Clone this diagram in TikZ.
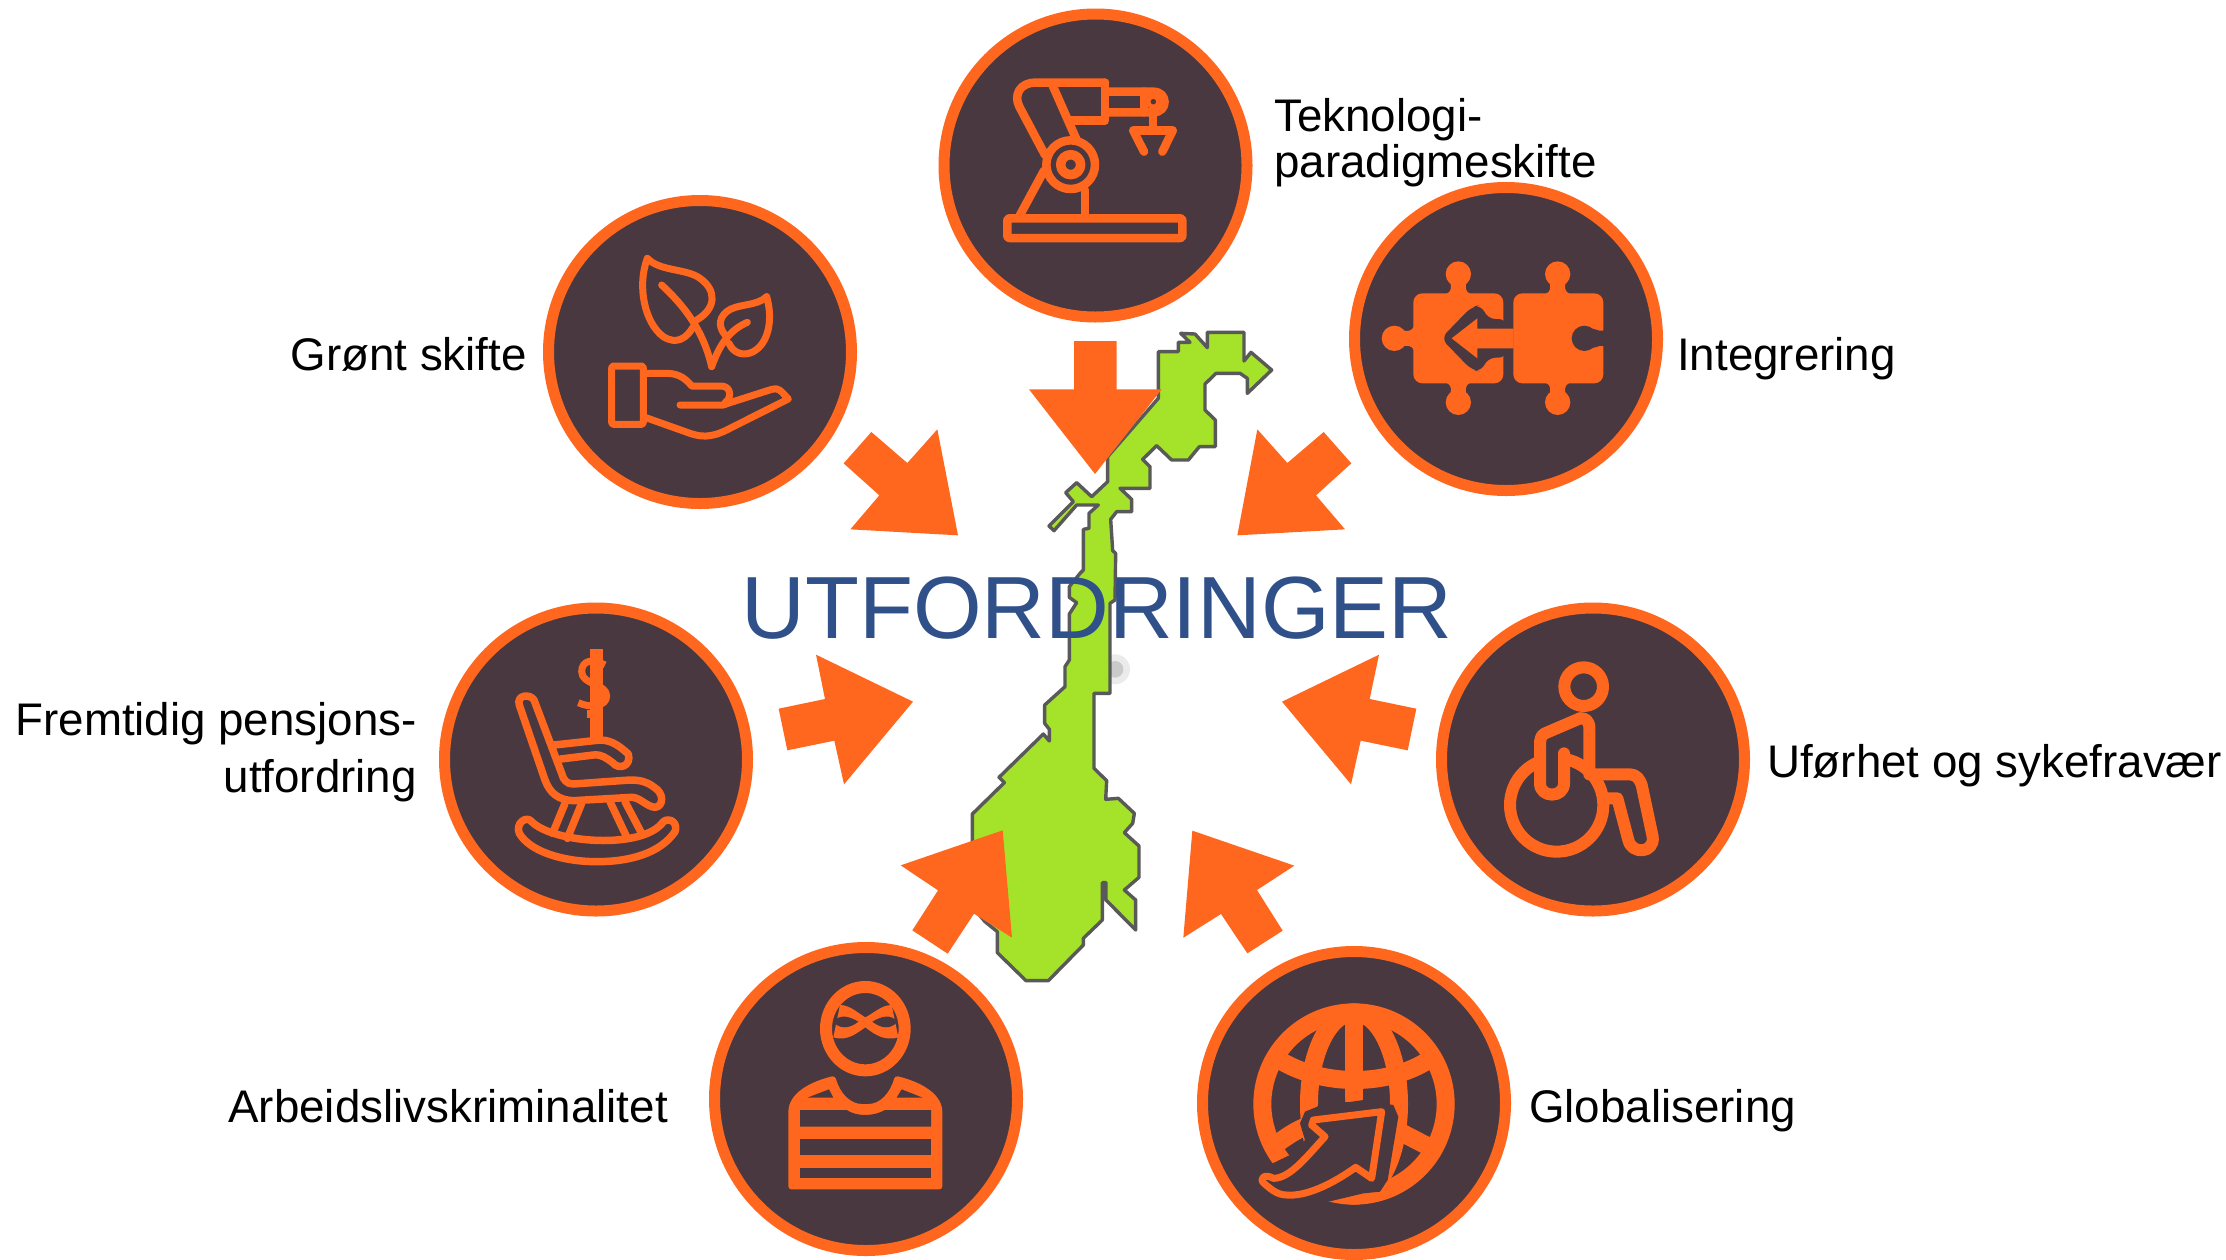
\documentclass[tikz,border=0pt]{standalone}
\usepackage{fontspec}
\setmainfont{Liberation Sans}
\definecolor{org}{HTML}{FF671F}
\definecolor{drk}{HTML}{493840}
\definecolor{grn}{HTML}{A5E32A}
\definecolor{mapedge}{HTML}{595959}
\definecolor{ttl}{HTML}{2F5089}
\tikzset{
  zf/.style 2 args={shift={(#1pt,-#2pt)},x=0.33333pt,y=-0.33333pt},
  badge/.style={circle,draw=org,fill=drk,line width=11pt,minimum size=303pt,inner sep=0pt},
  bigarrow/.style={fill=org,draw=none},
  ln/.style={draw=org,line cap=round,line join=round},
  lbl/.style={inner sep=0pt,font=\fontsize{45.7}{47}\selectfont},
}
\begin{document}
\begin{tikzpicture}[x=1pt,y=-1pt]
\useasboundingbox (0,0) rectangle (2226,1259);
\fill[white] (0,0) rectangle (2226,1259);

% Norway
\begin{scope}[zf={940}{310}]
\fill[black!25,opacity=.3] (525,1078) circle[radius=45];
\fill[black!40,opacity=.4] (525,1078) circle[radius=25];
\draw[fill=grn,draw=mapedge,line width=3.4pt,line join=round]
 (722,70)--(765,72)--(802,113)--(802,67)--(912,67)--(912,153)--(933,127)--(995,180)--(922,250)--(922,205)--(900,190)--(828,190)--(795,222)--(795,300)--(826,330)--(826,410)--(778,410)--(745,450)--(695,450)--(650,407)--(608,448)--(630,470)--(630,535)--(540,535)--(575,568)--(575,605)--(530,605)--(512,628)--(518,722)--(527,730)--(525,870)--(510,880)--(510,1150)--(462,1150)--(462,1375)--(500,1412)--(497,1468)--(535,1465)--(583,1510)--(578,1540)--(553,1568)--(597,1608)--(597,1702)--(553,1740)--(587,1770)--(587,1860)--(498,1770)--(498,1718)--(487,1718)--(487,1830)--(430,1885)--(430,1905)--(325,2012)--(258,2012)--(172,1928)--(172,1865)--(135,1835)--(97,1790)--(97,1512)--(193,1418)--(177,1402)--(310,1272)--(328,1293)--(328,1258)--(314,1240)--(314,1185)--(375,1130)--(375,1070)--(388,1050)--(388,912)--(410,878)--(388,862)--(388,830)--(420,790)--(430,780)--(430,658)--(447,655)--(447,610)--(475,585)--(410,585)--(342,662)--(327,648)--(400,575)--(377,548)--(410,518)--(455,560)--(503,515)--(503,440)--(655,265)--(655,125)--(715,125)--(715,97)--(750,97)--cycle;
\end{scope}

% title
\node[anchor=base,inner sep=0pt,text=ttl,font=\fontsize{88.3}{90}\selectfont] (title) at (1097,638) {UTFORDRINGER};

% arrows
\begin{scope}[zf={940}{310}]
\fill[bigarrow] (402,93)--(530,93)--(530,238)--(665,238)--(465,492)--(267,238)--(402,238)--cycle;
\end{scope}
\begin{scope}[zf={770}{410}]
\fill[bigarrow] (304,66)--(412,159)--(502,58)--(564,376)--(241,358)--(328,256)--(221,160)--cycle;
\fill[bigarrow] (26,896)--(165,867)--(138,734)--(429,875)--(222,1123)--(193,992)--(52,1021)--cycle;
\end{scope}
\begin{scope}[zf={1230}{410}]
\fill[bigarrow] (281,66)--(172,159)--(82,58)--(22,376)--(345,358)--(258,256)--(364,160)--cycle;
\fill[bigarrow] (559,896)--(419,867)--(447,734)--(156,875)--(363,1123)--(392,992)--(533,1021)--cycle;
\end{scope}
\begin{scope}[zf={890}{820}]
\fill[bigarrow] (32,136)--(338,31)--(366,353)--(252,281)--(173,401)--(67,331)--(144,211)--cycle;
\end{scope}
\begin{scope}[zf={940}{660}]
\fill[bigarrow] (757,512)--(1063,617)--(951,690)--(1028,812)--(922,880)--(843,762)--(730,833)--cycle;
\end{scope}

% badges
\node[badge] (robot)  at (1095.5,165.5) {};
\node[badge] (leaf)   at (700,352) {};
\node[badge] (puzzle) at (1506,339) {};
\node[badge] (chair)  at (596,759.5) {};
\node[badge] (wheel)  at (1593,759.5) {};
\node[badge] (thief)  at (866,1099) {};
\node[badge] (globe)  at (1354,1103) {};

% robot arm
\begin{scope}[zf={920}{0},ln,line width=8.5pt]
\draw[rounded corners=2pt] (262,655) rectangle (787,714);
\draw[line join=round] (555,248)--(345,248) .. controls (300,248) and (280,285) .. (298,320)--(375,465);
\draw (395,250)--(470,420);
\draw (555,248)--(555,362)--(450,362);
\draw (555,275)--(700,275) .. controls (745,275) and (745,337) .. (700,337)--(555,337);
\draw (672,275)--(672,337);
\draw[line width=4.5pt] (700,305) circle[radius=16];
\draw (452,494) circle[radius=73];
\draw[line width=9.5pt] (452,494) circle[radius=30];
\draw (372,512)--(300,645);
\draw (495,570)--(495,645);
\draw (699,340)--(699,392);
\draw (640,392)--(758,392);
\draw (640,392)--(672,455);
\draw (758,392)--(727,455);
\end{scope}

% leaf and hand
\begin{scope}[zf={530}{180},ln,line width=7pt]
\draw (352,235) .. controls (390,275) and (470,265) .. (510,295) .. controls (560,330) and (560,385) .. (500,420);
\draw (352,235) .. controls (320,320) and (345,430) .. (400,470) .. controls (440,495) and (470,475) .. (490,440);
\draw (395,315) .. controls (460,375) and (520,450) .. (545,560);
\draw (710,350) .. controls (680,380) and (620,370) .. (590,395) .. controls (560,420) and (570,450) .. (590,470);
\draw (710,350) .. controls (730,420) and (715,490) .. (670,515) .. controls (640,530) and (610,520) .. (597,490);
\draw (545,560) .. controls (570,490) and (600,450) .. (652,427);
\draw[rounded corners=2pt] (245,558) rectangle (340,733);
\draw (345,580)--(410,580) .. controls (450,580) and (470,600) .. (485,618)--(575,618) .. controls (605,620) and (605,655) .. (585,668);
\draw (450,675)--(580,675)--(600,668)--(725,628) .. controls (745,622) and (750,630) .. (775,657)--(590,750) .. controls (540,775) and (510,770) .. (480,760)--(345,712);
\end{scope}

% puzzle
\begin{scope}[zf={1340}{170}]
\fill[org,rounded corners=9pt] (220,370) rectangle (490,640);
\fill[org,rounded corners=9pt] (520,370) rectangle (790,640);
\foreach \c in {355,653}{
 \fill[org] (\c,312) circle[radius=38];
 \fill[org] (\c,697) circle[radius=38];
 \fill[org] (\c-36,372) .. controls (\c-20,365) and (\c-20,350) .. (\c-25,335)--(\c+25,335) .. controls (\c+20,350) and (\c+20,365) .. (\c+36,372)--cycle;
 \fill[org] (\c-36,638) .. controls (\c-20,645) and (\c-20,660) .. (\c-25,675)--(\c+25,675) .. controls (\c+20,660) and (\c+20,645) .. (\c+36,638)--cycle;
}
\fill[org] (163,505) circle[radius=38];
\fill[org] (222,469) .. controls (215,485) and (200,485) .. (185,480)--(185,530) .. controls (200,525) and (215,525) .. (222,541)--cycle;
\fill[drk] (733,505) circle[radius=38];
\fill[drk] (733,478) .. controls (760,465) and (770,490) .. (795,480)--(795,530) .. controls (770,520) and (760,545) .. (733,532)--cycle;
\fill[drk,rounded corners=8pt] (500,447)--(442,447)--(425,405)--(395,410)--(303,505)--(395,600)--(425,605)--(442,563)--(500,563)--cycle;
\fill[org] (521,476)--(412,476)--(412,445)--(335,505)--(412,565)--(412,535)--(521,535)--cycle;
\end{scope}

% rocking chair
\begin{scope}[zf={430}{590},ln,line width=7.5pt]
\fill[org] (479,178) rectangle (519,445);
\fill[org] (470,360) rectangle (500,385);
\draw[line width=7pt,line cap=butt] (525,225) .. controls (490,205) and (455,210) .. (455,245) .. controls (455,285) and (530,280) .. (530,318) .. controls (530,350) and (480,355) .. (445,338);
\draw (268,345)--(345,570) .. controls (360,610) and (385,630) .. (430,632)--(605,622) .. controls (630,622) and (650,650) .. (675,652) .. controls (700,650) and (705,610) .. (670,590) .. controls (650,575) and (630,570) .. (600,570)--(430,582) .. controls (410,582) and (400,570) .. (395,550)--(312,330) .. controls (300,310) and (258,315) .. (268,345)--cycle;
\draw (372,465)--(510,450) .. controls (550,450) and (575,475) .. (595,492) .. controls (605,530) and (565,540) .. (548,518) .. controls (530,505) and (515,492) .. (490,495)--(392,507);
\draw (405,640)--(368,730);
\draw (455,640)--(412,745);
\draw (540,635)--(592,745);
\draw (585,635)--(635,730);
\draw (305,695) .. controls (370,760) and (640,780) .. (700,695) .. controls (720,680) and (745,700) .. (735,725) .. controls (690,790) and (600,815) .. (500,815) .. controls (400,815) and (300,785) .. (268,730) .. controls (255,700) and (290,675) .. (305,695)--cycle;
\end{scope}

% wheelchair
\begin{scope}[zf={1430}{590},ln,line width=12pt]
\draw (461,290) circle[radius=58];
\draw (380,645) circle[radius=140];
\fill[drk] (335,450) rectangle (400,600);
\draw (450,385)--(345,430) .. controls (335,435) and (330,445) .. (330,455)--(330,580) .. controls (330,625) and (402,625) .. (402,580)--(402,490);
\draw (450,385) .. controls (465,382) and (478,395) .. (478,410)--(478,553)--(600,553) .. controls (620,553) and (630,570) .. (635,585)--(668,740) .. controls (675,790) and (605,795) .. (595,750)--(562,625)--(535,625);
\end{scope}

% thief
\begin{scope}[zf={700}{930}]
\draw[ln,line width=12pt] (496,296) ellipse[x radius=118,y radius=125];
\fill[org] (420,225) .. controls (450,225) and (475,250) .. (496,262) .. controls (520,250) and (545,225) .. (575,225)--(595,322) .. controls (550,335) and (520,310) .. (496,292) .. controls (470,310) and (440,335) .. (400,322)--cycle;
\fill[drk] (400,275) .. controls (420,250) and (450,260) .. (475,275) .. controls (450,295) and (420,300) .. (400,275)--cycle;
\fill[drk] (592,275) .. controls (572,250) and (542,260) .. (517,275) .. controls (542,295) and (572,300) .. (592,275)--cycle;
\fill[org,rounded corners=3pt] (265,778)--(265,555) .. controls (265,490) and (330,455) .. (405,437) .. controls (420,490) and (450,522) .. (496,522) .. controls (540,522) and (570,490) .. (585,437) .. controls (660,455) and (727,490) .. (727,555)--(727,778)--cycle;
\fill[drk] (300,540)--(440,540) .. controls (470,560) and (520,560) .. (555,540)--(693,540)--(693,590)--(300,590)--cycle;
\fill[drk] (300,627) rectangle (693,676);
\fill[drk] (300,713) rectangle (693,745);
\fill[drk] (322,503)--(387,478)--(400,503)--cycle;
\fill[drk] (668,503)--(605,478)--(590,503)--cycle;
\end{scope}

% globe
\begin{scope}[zf={1190}{930},ln,line width=18pt,line cap=butt]
\draw (492,522) circle[radius=275];
\draw (492,522) ellipse[x radius=135,y radius=275];
\draw (492,247)--(492,515);
\draw (268,390) .. controls (400,470) and (590,470) .. (716,390);
\draw (262,640) .. controls (330,590) and (350,590) .. (370,580);
\draw (635,608) -- (712,648);
\fill[drk] (400,490)--(465,502)--(465,518)--(520,510)--(610,525)--(625,560)--(593,750)--(570,785)--(520,790)--(415,815)--(250,830)--(180,770)--(190,700)--(248,700)--(300,675)--(345,630)--(330,580)--(345,545)--(382,530)--cycle;
\draw[line width=7pt,line join=round] (370,570)--(575,545)--(545,745)--(497,712) .. controls (430,760) and (350,800) .. (290,795) .. controls (260,795) and (240,775) .. (222,760) .. controls (205,745) and (225,730) .. (250,745) .. controls (300,745) and (350,680) .. (405,620)--(365,585)--cycle;
\end{scope}

% labels
\node[lbl,anchor=base west,align=left] (l1) at (1274,131) {Teknologi-};
\node[lbl,anchor=base west,align=left] (l1b) at (1274,177) {paradigmeskifte};
\node[lbl,anchor=base east] (l2) at (527,370) {Grønt skifte};
\node[lbl,anchor=base west] (l3) at (1677,370) {Integrering};
\node[lbl,anchor=base east] (l4) at (417,735) {Fremtidig pensjons-};
\node[lbl,anchor=base east] (l4b) at (417,792) {utfordring};
\node[lbl,anchor=base west] (l5) at (1767,777) {Uførhet og sykefravær};
\node[lbl,anchor=base east] (l6) at (668,1122) {Arbeidslivskriminalitet};
\node[lbl,anchor=base west] (l7) at (1529,1122) {Globalisering};
\end{tikzpicture}
\end{document}
